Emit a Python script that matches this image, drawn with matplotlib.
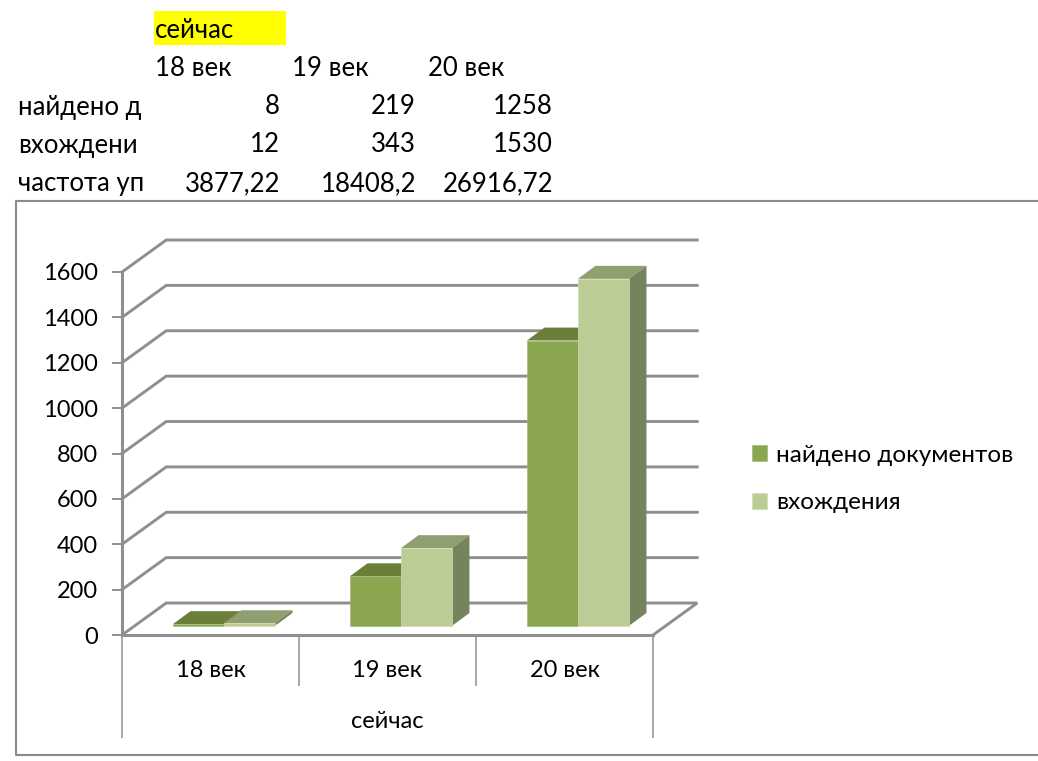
# столбчатая диаграмма 3D: найдено документов / вхождения по векам
import matplotlib
matplotlib.use('Agg')
import matplotlib.pyplot as plt
from matplotlib.lines import Line2D
from matplotlib.patches import Polygon, Rectangle

plt.rcParams['font.family'] = ['Lato', 'Open Sans', 'DejaVu Sans']

W, H = 1038, 761

title_cell = 'сейчас'
categories = ['18 век', '19 век', '20 век']
row_labels = ['найдено д', 'вхождени', 'частота уп']
found_docs = [8, 219, 1258]
entries = [12, 343, 1530]
freq_text = ['3877,22', '18408,2', '26916,72']
y_ticks = [0, 200, 400, 600, 800, 1000, 1200, 1400, 1600]
legend_labels = ['найдено документов', 'вхождения']

GRID = '#8f8f8f'
DARK, DARK_TOP = '#8aa64e', '#6b7f3a'
LIGHT, LIGHT_TOP = '#bbcd95', '#8f9f70'
SIDE = '#76845d'
FS = 17
FS_TABLE = 18.5


def fx(px):
    return px / W


def fy(py):
    return 1 - py / H


fig = plt.figure(figsize=(W / 100, H / 100), dpi=100, facecolor='white')

# ячейки таблицы над диаграммой
fig.add_artist(Rectangle((fx(154), fy(45)), fx(132), 34 / H, color='#ffff00', lw=0))
fig.text(fx(155), fy(30), title_cell, fontsize=FS_TABLE, va='center')
col_left = [155, 292, 428]
col_right = [280, 416, 553]
for i, c in enumerate(categories):
    fig.text(fx(col_left[i]), fy(68), c, fontsize=FS_TABLE, va='center')
rows = [found_docs, entries, freq_text]
row_y = [107, 145, 184]
for label, vals, y in zip(row_labels, rows, row_y):
    fig.text(fx(18), fy(y), label, fontsize=FS_TABLE, va='center')
    for v, xr in zip(vals, col_right):
        fig.text(fx(xr), fy(y), str(v), fontsize=FS_TABLE, va='center', ha='right')

# рамка диаграммы, справа обрезана
fig.add_artist(Line2D([1, fx(16), fx(16), 1], [fy(201), fy(201), fy(755), fy(755)],
                      color='#8a8a8a', lw=1.5))

ax = fig.add_axes([fx(122), fy(635), 531 / W, 363 / H])
ax.patch.set_alpha(0)

# глубина стены и столбцов в единицах данных
wall_dx, wall_dy = 0.25, 141
bar_dx, bar_dy = 0.099, 57
base = 40
width = 0.288
shift = 0.076

left, right = -0.5, 2.5
for t in y_ticks[1:]:
    ax.plot([left, left + wall_dx, right + wall_dx], [t, t + wall_dy, t + wall_dy],
            color=GRID, lw=2.1, clip_on=False, solid_joinstyle='miter')
ax.plot([left, left + wall_dx, right + wall_dx, right], [0, wall_dy, wall_dy, 0],
        color=GRID, lw=2.1, clip_on=False, solid_joinstyle='miter')

pos = list(range(len(categories)))
for series, front, top, off in [(found_docs, DARK, DARK_TOP, -width / 2),
                                (entries, LIGHT, LIGHT_TOP, width / 2)]:
    for x, v in zip(pos, series):
        x0 = x + shift + off - width / 2
        x1 = x0 + width
        y1 = base + v
        ax.add_patch(Polygon([(x0, y1), (x0 + bar_dx, y1 + bar_dy), (x1 + bar_dx, y1 + bar_dy), (x1, y1)],
                             facecolor=top, edgecolor='none', clip_on=False, zorder=3))
        ax.add_patch(Polygon([(x1, base), (x1 + bar_dx, base + bar_dy), (x1 + bar_dx, y1 + bar_dy), (x1, y1)],
                             facecolor=SIDE, edgecolor='none', clip_on=False, zorder=3))

bars_a = ax.bar([x + shift - width / 2 for x in pos], found_docs, width, bottom=base,
                color=DARK, edgecolor='#a3b97a', lw=0.5, zorder=4, label=legend_labels[0])
bars_b = ax.bar([x + shift + width / 2 for x in pos], entries, width, bottom=base,
                color=LIGHT, edgecolor='#cfdcb6', lw=0.5, zorder=4, label=legend_labels[1])

ax.set_xlim(left, right)
ax.set_ylim(0, 1600)
ax.set_yticks(y_ticks)
ax.set_xticks(pos)
ax.set_xticklabels(categories, fontsize=FS)
ax.tick_params(axis='y', length=7.2, width=1.4, color=GRID, pad=10, labelsize=FS)
ax.tick_params(axis='x', length=0, pad=18)
for lab in ax.get_yticklabels():
    lab.set_verticalalignment('center_baseline')

for s in ['top', 'right']:
    ax.spines[s].set_visible(False)
for s in ['left', 'bottom']:
    ax.spines[s].set_color(GRID)
    ax.spines[s].set_linewidth(2.2)

# разделители подписей категорий
ax.vlines([0.5, 1.5], -225, 0, color=GRID, lw=1.1, clip_on=False)
ax.vlines([left, right], -454, 0, color=GRID, lw=1.1, clip_on=False)
ax.text(1, -380, title_cell, fontsize=FS, ha='center', va='center')

fig.legend([bars_a, bars_b], legend_labels, loc='center left', frameon=False, fontsize=17.5,
           bbox_to_anchor=(fx(752), fy(479)), handlelength=0.62, handleheight=0.62,
           handletextpad=0.36, labelspacing=1.1, borderpad=0, borderaxespad=0)

fig.savefig('out.png', dpi=100)
